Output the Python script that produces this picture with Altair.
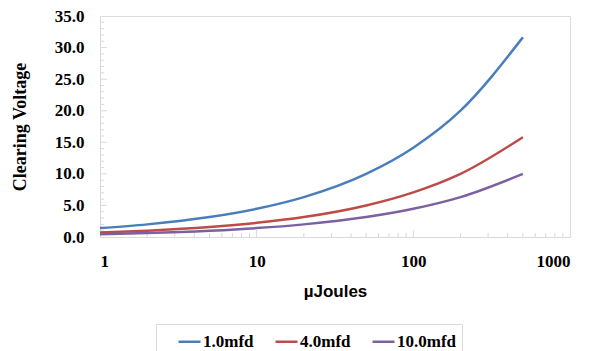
import altair as alt
import pandas as pd

energy = [1, 2, 5, 10, 20, 50, 100, 200, 500]
v_1mfd = [1.41, 2.0, 3.16, 4.47, 6.32, 10.0, 14.14, 20.0, 31.62]
v_4mfd = [0.71, 1.0, 1.58, 2.24, 3.16, 5.0, 7.07, 10.0, 15.81]
v_10mfd = [0.45, 0.63, 1.0, 1.41, 2.0, 3.16, 4.47, 6.32, 10.0]
series = ["1.0mfd", "4.0mfd", "10.0mfd"]
colors = ["#4A7EBB", "#BE4B48", "#7D60A0"]

x_minor = [2, 3, 4, 5, 6, 7, 8, 9, 20, 30, 40, 50, 60, 70, 80, 90,
           200, 300, 400, 500, 600, 700, 800, 900]
x_major = [10, 100]
y_minor = [v for v in range(1, 35) if v % 5 != 0]
y_major = [5, 10, 15, 20, 25, 30]

rows = []
for name, vals in zip(series, [v_1mfd, v_4mfd, v_10mfd]):
    for e, v in zip(energy, vals):
        rows.append({"E": e, "V": v, "Series": name})
df = pd.DataFrame(rows)

W, H = 470, 221
xscale = alt.Scale(type="log", domain=[1, 1000])
yscale = alt.Scale(domain=[0, 35])

xaxis = alt.Axis(title="µJoules", values=[1, 10, 100, 1000], format="d",
                 grid=False, ticks=False, domainColor="#D9D9D9",
                 labelOverlap=False,
                 labelFont="Liberation Serif", labelFontWeight="bold",
                 labelFontSize=17, labelColor="black", labelPadding=16,
                 titleFont="Liberation Sans", titleFontWeight="bold",
                 titleFontSize=17, titleColor="black", titlePadding=14)
yaxis = alt.Axis(title="Clearing Voltage", values=[0, 5, 10, 15, 20, 25, 30, 35],
                 format=".1f", grid=False, ticks=False, domainColor="#D9D9D9",
                 labelOverlap=False,
                 labelFont="Liberation Serif", labelFontWeight="bold",
                 labelFontSize=17, labelColor="black", labelPadding=16,
                 titleFont="Liberation Serif", titleFontWeight="bold",
                 titleFontSize=18, titleColor="black", titlePadding=25)

lines = alt.Chart(df).mark_line(strokeWidth=2.5, interpolate="monotone").encode(
    x=alt.X("E:Q", scale=xscale, axis=xaxis),
    y=alt.Y("V:Q", scale=yscale, axis=yaxis),
    color=alt.Color("Series:N", scale=alt.Scale(domain=series, range=colors),
                    sort=series,
                    legend=alt.Legend(title=None, orient="none", direction="horizontal",
                                      legendX=56, legendY=308,
                                      symbolType="stroke", symbolStrokeWidth=2.5,
                                      symbolSize=484, symbolOffset=16,
                                      labelFont="Liberation Serif",
                                      labelFontWeight="bold", labelFontSize=17,
                                      labelColor="black", labelOffset=1,
                                      columnPadding=4, strokeColor="#D9D9D9",
                                      padding=5)),
)

xt_minor = alt.Chart(pd.DataFrame({"E": x_minor})).mark_rule(color="#D9D9D9").encode(
    x=alt.X("E:Q", scale=xscale, axis=xaxis), y=alt.value(H), y2=alt.value(H - 4))
xt_major = alt.Chart(pd.DataFrame({"E": x_major})).mark_rule(color="#D9D9D9").encode(
    x=alt.X("E:Q", scale=xscale, axis=xaxis), y=alt.value(H), y2=alt.value(H - 7))
yt_minor = alt.Chart(pd.DataFrame({"V": y_minor})).mark_rule(color="#D9D9D9").encode(
    y=alt.Y("V:Q", scale=yscale, axis=yaxis), x=alt.value(0), x2=alt.value(4))
yt_major = alt.Chart(pd.DataFrame({"V": y_major})).mark_rule(color="#D9D9D9").encode(
    y=alt.Y("V:Q", scale=yscale, axis=yaxis), x=alt.value(0), x2=alt.value(7))

chart = alt.layer(xt_minor, xt_major, yt_minor, yt_major, lines).properties(
    width=W, height=H,
    autosize=alt.AutoSizeParams(type="none"),
    padding={"left": 92, "top": 8, "right": 11, "bottom": 114},
).configure_view(stroke="#D9D9D9", strokeWidth=1).configure(background="white")

chart.save("out.html", embed_options={"renderer": "svg", "actions": False})
